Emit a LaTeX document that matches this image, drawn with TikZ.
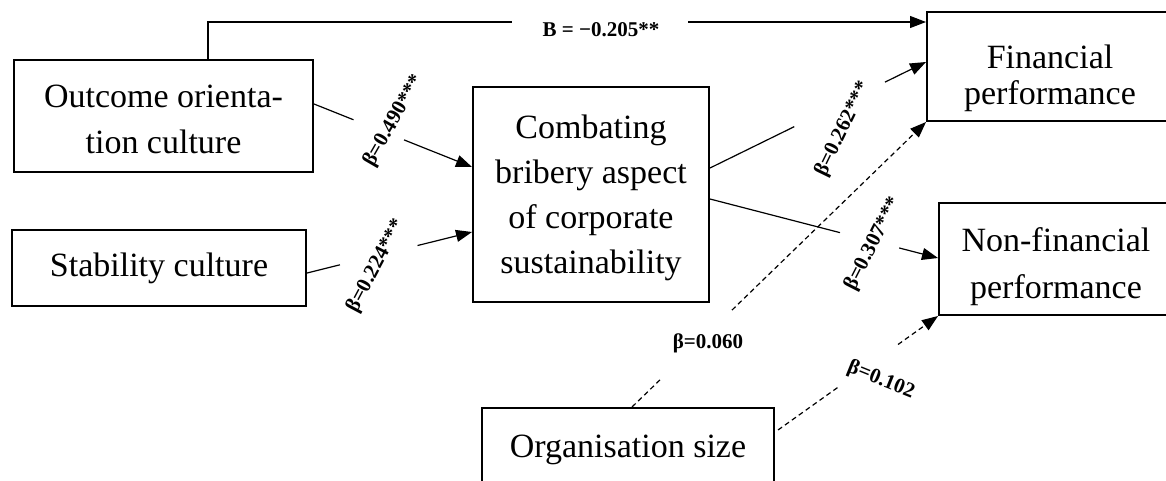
\documentclass[tikz,border=0pt]{standalone}
\usepackage{fontspec}
\setmainfont{Liberation Serif}
\usetikzlibrary{arrows.meta,calc}
% pushes the first line of a block down
\newcommand{\lowerby}[1]{\rule{0pt}{#1}}

\begin{document}
\begin{tikzpicture}
[x=1pt, y=-1pt,
% STYLES
% The block style is used to draw the constructs of the model
block/.style={rectangle, draw, line width=2pt, inner sep=0pt, align=center, font=\fontsize{34}{46}\selectfont},
% The coef style is used to write the path coefficients
coef/.style={inner sep=1pt, font=\bfseries\fontsize{21}{24}\selectfont},
% The link styles are used to draw the paths
link/.style={line width=1.2pt},
arr/.style={link, -{Triangle[length=16pt, width=12pt]}},
hypo/.style={link, dash pattern=on 5pt off 3.5pt}]
\useasboundingbox (0,0) rectangle (1166,480);
% Draw constructs
\node [block, minimum width=299pt, minimum height=112pt] (outcome) at (163.5,116) {\lowerby{30pt}Outcome orienta-\\tion culture};
\node [block, minimum width=294pt, minimum height=76pt] (stability) at (159,268) {Stability culture};
\node [block, minimum width=236pt, minimum height=215pt, font=\fontsize{34}{45}\selectfont] (bribery) at (591,194.5) {\lowerby{31pt}Combating\\bribery aspect\\of corporate\\sustainability};
\node [block, minimum width=246pt, minimum height=109pt, font=\fontsize{34}{36}\selectfont] (finperf) at (1050,66.5) {\lowerby{47pt}Financial\\performance};
\node [block, minimum width=234pt, minimum height=112pt, font=\fontsize{34}{47}\selectfont] (nonfinperf) at (1056,259) {\lowerby{39pt}Non-financial\\performance};
\node [block, minimum width=292pt, minimum height=78pt] (orgsize) at (628,447) {\lowerby{29pt}Organisation size};
%%%%%%%%%%%%%%%
% Path coefficients
\node [coef] (b-direct) at (601,30) {B = −0.205**};
\node [coef, rotate=60] (b-outcome) at (394,121) {β=0.490***};
\node [coef, rotate=62] (b-stability) at (376,266) {β=0.224***};
\node [coef, rotate=64] (b-fin) at (843,129) {β=0.262***};
\node [coef, rotate=63] (b-nonfin) at (873,244) {β=0.307***};
\node [coef] (b-size-fin) at (708,343) {β=0.060};
\node [coef, rotate=-22] (b-size-nonfin) at (881,380) {β=0.102};
%%%%%%%%%%%%%%%
% End points of the paths
\coordinate (oc-s) at ([yshift=12pt]outcome.east);
\coordinate (oc-e) at ([yshift=27.5pt]bribery.west);
\coordinate (st-s) at ([yshift=-5pt]stability.east);
\coordinate (st-e) at ([yshift=-37.5pt]bribery.west);
\coordinate (fi-s) at ([yshift=26.5pt]bribery.east);
\coordinate (fi-e) at ([yshift=4.5pt]finperf.west);
\coordinate (nf-s) at ([yshift=-4.5pt]bribery.east);
\coordinate (nf-e) at ([yshift=1pt]nonfinperf.west);
\coordinate (sf-s) at ([xshift=4pt]orgsize.north);
\coordinate (sn-s) at ([xshift=3pt, yshift=17pt]orgsize.east);
\coordinate (dr-s) at ([xshift=44.5pt]outcome.north);
\coordinate (dr-e) at ([yshift=44.5pt]finperf.west);
%%%%%%%%%%%%%%%
% Draw the paths between constructs
\draw [link] (dr-s) |- ([xshift=-414pt]dr-e);
\draw [arr] ([xshift=-238pt]dr-e) -- (dr-e);
\draw [link] (oc-s) -- ($(oc-s)!0.25!(oc-e)$);
\draw [arr] ($(oc-s)!0.57!(oc-e)$) -- (oc-e);
\draw [link] (st-s) -- ($(st-s)!0.20!(st-e)$);
\draw [arr] ($(st-s)!0.67!(st-e)$) -- (st-e);
\draw [link] (fi-s) -- ($(fi-s)!0.39!(fi-e)$);
\draw [arr] ($(fi-s)!0.81!(fi-e)$) -- (fi-e);
\draw [link] (nf-s) -- ($(nf-s)!0.57!(nf-e)$);
\draw [arr] ($(nf-s)!0.83!(nf-e)$) -- (nf-e);
% control variable
\draw [hypo] (sf-s) -- ($(sf-s)!0.10!(finperf.south west)$);
\draw [hypo, arr] ($(sf-s)!0.34!(finperf.south west)$) -- (finperf.south west);
\draw [hypo] (sn-s) -- ($(sn-s)!0.38!(nonfinperf.south west)$);
\draw [hypo, arr] ($(sn-s)!0.75!(nonfinperf.south west)$) -- (nonfinperf.south west);
\end{tikzpicture}
\end{document}
